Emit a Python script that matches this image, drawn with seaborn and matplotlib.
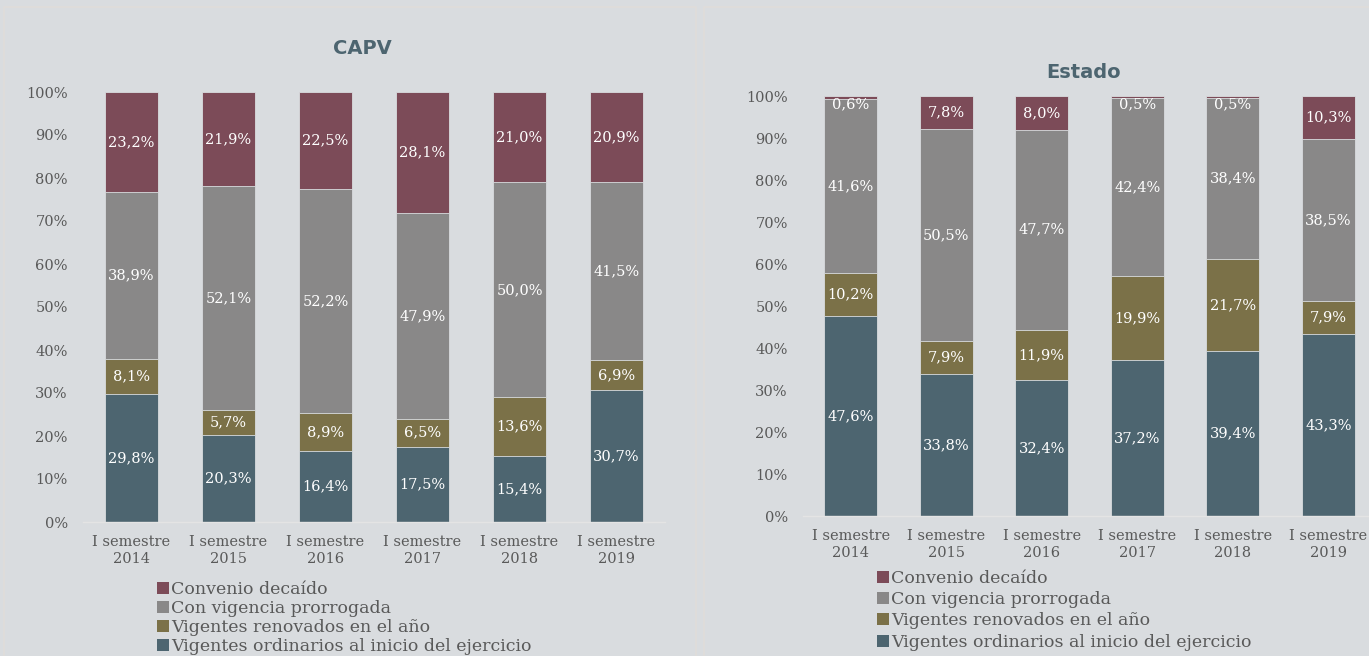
import numpy as np
import pandas as pd
import matplotlib
matplotlib.use("Agg")
import matplotlib.pyplot as plt
import seaborn as sns
from matplotlib.patches import Patch, Rectangle

# Datos (porcentajes)
periodos = ["I semestre\n2014", "I semestre\n2015", "I semestre\n2016",
            "I semestre\n2017", "I semestre\n2018", "I semestre\n2019"]
series = ["Vigentes ordinarios al inicio del ejercicio",
          "Vigentes renovados en el año",
          "Con vigencia prorrogada",
          "Convenio decaído"]

capv_ordinarios = [29.8, 20.3, 16.4, 17.5, 15.4, 30.7]
capv_renovados = [8.1, 5.7, 8.9, 6.5, 13.6, 6.9]
capv_prorrogada = [38.9, 52.1, 52.2, 47.9, 50.0, 41.5]
capv_decaido = [23.2, 21.9, 22.5, 28.1, 21.0, 20.9]

estado_ordinarios = [47.6, 33.8, 32.4, 37.2, 39.4, 43.3]
estado_renovados = [10.2, 7.9, 11.9, 19.9, 21.7, 7.9]
estado_prorrogada = [41.6, 50.5, 47.7, 42.4, 38.4, 38.5]
estado_decaido = [0.6, 7.8, 8.0, 0.5, 0.5, 10.3]

colores = ["#4d6570", "#7b7148", "#898888", "#7c4b58"]
fondo = "#d9dcdf"
serif = ["DejaVu Serif"]


def panel(ax, capas, titulo_xy, titulo, fig):
    df = pd.DataFrame({"periodo": periodos})
    acum = np.zeros(len(periodos))
    tops = []
    for capa in capas:
        acum = acum + np.array(capa)
        tops.append(acum.copy())
    # dibujar de la capa superior a la inferior (barras acumuladas)
    for i in reversed(range(len(capas))):
        df["valor"] = tops[i] / 100
        sns.barplot(data=df, x="periodo", y="valor", color=colores[i],
                    width=0.55, saturation=1, ax=ax,
                    edgecolor=fondo, linewidth=0.6)
    # etiquetas de datos
    for i, capa in enumerate(capas):
        for j, v in enumerate(capa):
            base = tops[i][j] - v
            y = base + v / 2
            if v < 3:
                y = tops[i][j] - 2.0
            ax.text(j, y / 100, f"{v:.1f}%".replace(".", ","), ha="center",
                    va="center", color="white", fontsize=10.5, family=serif)
    ax.set_ylim(0, 1)
    ax.set_xlim(-0.5, 5.5)
    ax.set_yticks(np.arange(0, 1.01, 0.1))
    ax.set_yticklabels([f"{int(t)}%" for t in np.arange(0, 101, 10)])
    ax.set_xlabel("")
    ax.set_ylabel("")
    ax.set_facecolor(fondo)
    for s in ["top", "right", "left"]:
        ax.spines[s].set_visible(False)
    ax.spines["bottom"].set_color("#e4e4e4")
    ax.spines["bottom"].set_linewidth(1)
    ax.tick_params(length=0, labelcolor="#595959", labelsize=10.5)
    ax.tick_params(axis="y", pad=11)
    ax.tick_params(axis="x", pad=9)
    for lab in ax.get_xticklabels() + ax.get_yticklabels():
        lab.set_family(serif)
        lab.set_linespacing(1.35)
    fig.text(titulo_xy[0], titulo_xy[1], titulo, ha="center", va="center",
             fontsize=14, fontweight="heavy", color="#4d6570",
             family=["DejaVu Sans"])


sns.set_theme(style="white")
fig = plt.figure(figsize=(13.69, 6.56), dpi=100)
fig.patch.set_facecolor(fondo)

# marcos de los paneles
fig.patches.append(Rectangle((4 / 1369, -0.01), 692 / 1369, 1 - 7 / 656 + 0.01,
                             transform=fig.transFigure, fill=False,
                             edgecolor="#e0dcda", linewidth=1.2))
fig.patches.append(Rectangle((704 / 1369, -0.01), 670 / 1369, 1 - 7 / 656 + 0.01,
                             transform=fig.transFigure, fill=False,
                             edgecolor="#e0dcda", linewidth=1.2))

ax1 = fig.add_axes([83 / 1369, 1 - 522 / 656, 582 / 1369, 430 / 656])
ax2 = fig.add_axes([803 / 1369, 1 - 516 / 656, 573 / 1369, 420 / 656])

panel(ax1, [capv_ordinarios, capv_renovados, capv_prorrogada, capv_decaido],
      (362 / 1369, 1 - 48 / 656), "CAPV", fig)
panel(ax2, [estado_ordinarios, estado_renovados, estado_prorrogada, estado_decaido],
      (1084 / 1369, 1 - 73 / 656), "Estado", fig)

handles = [Patch(facecolor=colores[i], edgecolor="none") for i in [3, 2, 1, 0]]
etiquetas = [series[i] for i in [3, 2, 1, 0]]
for x0, y0, sp in [(148 / 1369, 1 - 572 / 656, 0.12), (868 / 1369, 1 - 561 / 656, 0.25)]:
    fig.legend(handles, etiquetas, loc="upper left", bbox_to_anchor=(x0, y0),
               frameon=False, handlelength=0.7, handleheight=0.7,
               handletextpad=0.15, labelspacing=sp, borderpad=0,
               prop={"family": serif, "size": 12.5}, labelcolor="#595959")

fig.savefig("out.png", dpi=100, facecolor=fondo)
